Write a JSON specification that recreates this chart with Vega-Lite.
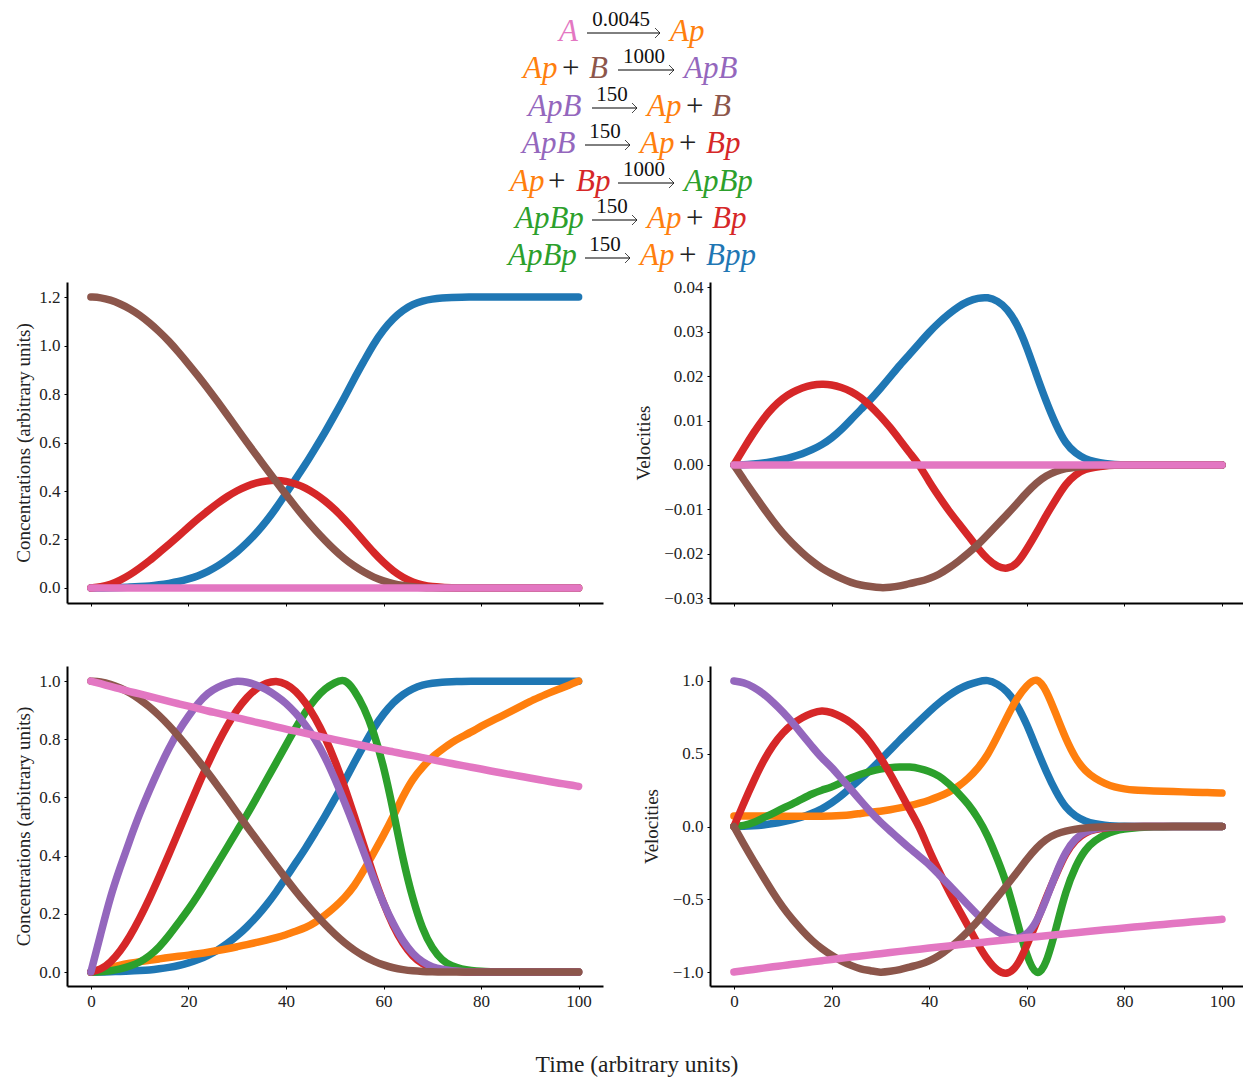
{"$schema":"https://vega.github.io/schema/vega-lite/v6.json","padding":{"left":14,"top":0,"right":0,"bottom":0},"background":"white","bounds":"flush","columns":2,"spacing":{"row":63,"column":107},
"config":{"view":{"stroke":null},"font":"Liberation Serif","axis":{"grid":false,"domainColor":"black","domainWidth":2,"tickColor":"black","tickWidth":1,"tickSize":3,"labelColor":"#222","labelFont":"Liberation Serif","labelFontSize":17,"labelPadding":4,"titleFont":"Liberation Serif","titleFontSize":19,"titleFontWeight":"normal","titleColor":"#222"}},
"datasets":{
"eqSpecies":[
{"x":559,"y":41,"text":"A","species":"A"},{"x":670,"y":41,"text":"Ap","species":"Ap"},
{"x":523,"y":78,"text":"Ap","species":"Ap"},{"x":589,"y":78,"text":"B","species":"B"},{"x":684,"y":78,"text":"ApB","species":"ApB"},
{"x":528,"y":116,"text":"ApB","species":"ApB"},{"x":647,"y":116,"text":"Ap","species":"Ap"},{"x":712,"y":116,"text":"B","species":"B"},
{"x":522,"y":153,"text":"ApB","species":"ApB"},{"x":640,"y":153,"text":"Ap","species":"Ap"},{"x":706,"y":153,"text":"Bp","species":"Bp"},
{"x":510,"y":191,"text":"Ap","species":"Ap"},{"x":576,"y":191,"text":"Bp","species":"Bp"},{"x":684,"y":191,"text":"ApBp","species":"ApBp"},
{"x":515,"y":228,"text":"ApBp","species":"ApBp"},{"x":647,"y":228,"text":"Ap","species":"Ap"},{"x":712,"y":228,"text":"Bp","species":"Bp"},
{"x":508,"y":265,"text":"ApBp","species":"ApBp"},{"x":640,"y":265,"text":"Ap","species":"Ap"},{"x":706,"y":265,"text":"Bpp","species":"Bpp"}],
"eqPlus":[{"x":562,"y":78,"text":"+"},{"x":686,"y":116,"text":"+"},{"x":679,"y":153,"text":"+"},{"x":548,"y":191,"text":"+"},{"x":686,"y":228,"text":"+"},{"x":679,"y":265,"text":"+"}],
"eqRates":[{"x":621,"y":26,"text":"0.0045"},{"x":644,"y":63,"text":"1000"},{"x":612,"y":101,"text":"150"},{"x":605,"y":138,"text":"150"},{"x":644,"y":176,"text":"1000"},{"x":612,"y":213,"text":"150"},{"x":605,"y":251,"text":"150"}],
"eqArrows":[{"x1":587,"x2":660,"y":33},{"x1":618,"x2":674,"y":70},{"x1":592,"x2":637,"y":108},{"x1":585,"x2":630,"y":145},{"x1":618,"x2":674,"y":183},{"x1":592,"x2":637,"y":220},{"x1":585,"x2":630,"y":258}],
"concAbs":[
{"t":0,"Bpp":0,"Bp":0,"B":1.2,"A":0},{"t":2,"Bpp":0,"Bp":0.004,"B":1.198,"A":0},{"t":4,"Bpp":0.001,"Bp":0.014,"B":1.188,"A":0},{"t":6,"Bpp":0.002,"Bp":0.032,"B":1.172,"A":0},{"t":8,"Bpp":0.004,"Bp":0.054,"B":1.152,"A":0},{"t":10,"Bpp":0.006,"Bp":0.082,"B":1.126,"A":0},{"t":12,"Bpp":0.008,"Bp":0.112,"B":1.094,"A":0},{"t":14,"Bpp":0.013,"Bp":0.146,"B":1.058,"A":0},{"t":16,"Bpp":0.019,"Bp":0.18,"B":1.018,"A":0},{"t":18,"Bpp":0.026,"Bp":0.215,"B":0.972,"A":0},{"t":20,"Bpp":0.037,"Bp":0.251,"B":0.924,"A":0},{"t":22,"Bpp":0.05,"Bp":0.286,"B":0.874,"A":0},{"t":24,"Bpp":0.068,"Bp":0.319,"B":0.822,"A":0},{"t":26,"Bpp":0.09,"Bp":0.35,"B":0.768,"A":0},{"t":28,"Bpp":0.118,"Bp":0.378,"B":0.713,"A":0},{"t":30,"Bpp":0.149,"Bp":0.402,"B":0.656,"A":0},{"t":32,"Bpp":0.186,"Bp":0.421,"B":0.6,"A":0},{"t":34,"Bpp":0.228,"Bp":0.434,"B":0.546,"A":0},{"t":36,"Bpp":0.276,"Bp":0.442,"B":0.492,"A":0},{"t":38,"Bpp":0.33,"Bp":0.445,"B":0.438,"A":0},{"t":40,"Bpp":0.39,"Bp":0.441,"B":0.385,"A":0},{"t":42,"Bpp":0.45,"Bp":0.43,"B":0.334,"A":0},{"t":44,"Bpp":0.51,"Bp":0.413,"B":0.284,"A":0},{"t":46,"Bpp":0.576,"Bp":0.389,"B":0.239,"A":0},{"t":48,"Bpp":0.642,"Bp":0.36,"B":0.196,"A":0},{"t":50,"Bpp":0.714,"Bp":0.324,"B":0.156,"A":0},{"t":52,"Bpp":0.786,"Bp":0.284,"B":0.12,"A":0},{"t":54,"Bpp":0.864,"Bp":0.239,"B":0.09,"A":0},{"t":56,"Bpp":0.936,"Bp":0.192,"B":0.065,"A":0},{"t":58,"Bpp":1.008,"Bp":0.146,"B":0.044,"A":0},{"t":60,"Bpp":1.066,"Bp":0.105,"B":0.029,"A":0},{"t":62,"Bpp":1.112,"Bp":0.07,"B":0.017,"A":0},{"t":64,"Bpp":1.146,"Bp":0.043,"B":0.01,"A":0},{"t":66,"Bpp":1.17,"Bp":0.024,"B":0.005,"A":0},{"t":68,"Bpp":1.184,"Bp":0.012,"B":0.002,"A":0},{"t":70,"Bpp":1.192,"Bp":0.005,"B":0.001,"A":0},{"t":72,"Bpp":1.196,"Bp":0.003,"B":0,"A":0},{"t":74,"Bpp":1.198,"Bp":0.001,"B":0,"A":0},{"t":76,"Bpp":1.199,"Bp":0,"B":0,"A":0},{"t":78,"Bpp":1.2,"Bp":0,"B":0,"A":0},{"t":80,"Bpp":1.2,"Bp":0,"B":0,"A":0},{"t":85,"Bpp":1.2,"Bp":0,"B":0,"A":0},{"t":90,"Bpp":1.2,"Bp":0,"B":0,"A":0},{"t":95,"Bpp":1.2,"Bp":0,"B":0,"A":0},{"t":100,"Bpp":1.2,"Bp":0,"B":0,"A":0}],
"velAbs":[
{"t":0,"Bpp":0,"Bp":0,"B":0,"A":0},{"t":2,"Bpp":0,"Bp":0.0037,"B":-0.0033,"A":0},{"t":4,"Bpp":0.0002,"Bp":0.0072,"B":-0.0065,"A":0},{"t":6,"Bpp":0.0004,"Bp":0.0104,"B":-0.0096,"A":0},{"t":8,"Bpp":0.0008,"Bp":0.013,"B":-0.0126,"A":0},{"t":10,"Bpp":0.0012,"Bp":0.015,"B":-0.0154,"A":0},{"t":12,"Bpp":0.0018,"Bp":0.0164,"B":-0.0177,"A":0},{"t":14,"Bpp":0.0025,"Bp":0.0174,"B":-0.0198,"A":0},{"t":16,"Bpp":0.0034,"Bp":0.018,"B":-0.0217,"A":0},{"t":18,"Bpp":0.0045,"Bp":0.0182,"B":-0.0233,"A":0},{"t":20,"Bpp":0.006,"Bp":0.0181,"B":-0.0245,"A":0},{"t":22,"Bpp":0.0079,"Bp":0.0175,"B":-0.0256,"A":0},{"t":24,"Bpp":0.0102,"Bp":0.0166,"B":-0.0265,"A":0},{"t":26,"Bpp":0.0125,"Bp":0.0152,"B":-0.0271,"A":0},{"t":28,"Bpp":0.0147,"Bp":0.0133,"B":-0.0274,"A":0},{"t":30,"Bpp":0.0172,"Bp":0.011,"B":-0.0277,"A":0},{"t":32,"Bpp":0.0198,"Bp":0.0085,"B":-0.0276,"A":0},{"t":34,"Bpp":0.0225,"Bp":0.0056,"B":-0.0273,"A":0},{"t":36,"Bpp":0.0249,"Bp":0.0027,"B":-0.0267,"A":0},{"t":38,"Bpp":0.0274,"Bp":0,"B":-0.0263,"A":0},{"t":40,"Bpp":0.0299,"Bp":-0.0038,"B":-0.0256,"A":0},{"t":42,"Bpp":0.0321,"Bp":-0.0071,"B":-0.0247,"A":0},{"t":44,"Bpp":0.034,"Bp":-0.0103,"B":-0.0233,"A":0},{"t":46,"Bpp":0.0357,"Bp":-0.0131,"B":-0.0217,"A":0},{"t":48,"Bpp":0.0369,"Bp":-0.0159,"B":-0.0199,"A":0},{"t":50,"Bpp":0.0376,"Bp":-0.0188,"B":-0.018,"A":0},{"t":52,"Bpp":0.0378,"Bp":-0.0213,"B":-0.0157,"A":0},{"t":54,"Bpp":0.037,"Bp":-0.023,"B":-0.0134,"A":0},{"t":56,"Bpp":0.0352,"Bp":-0.0235,"B":-0.0111,"A":0},{"t":58,"Bpp":0.0318,"Bp":-0.0224,"B":-0.0087,"A":0},{"t":60,"Bpp":0.0266,"Bp":-0.019,"B":-0.0062,"A":0},{"t":62,"Bpp":0.0202,"Bp":-0.0153,"B":-0.004,"A":0},{"t":64,"Bpp":0.0142,"Bp":-0.0113,"B":-0.0024,"A":0},{"t":66,"Bpp":0.0089,"Bp":-0.0077,"B":-0.0014,"A":0},{"t":68,"Bpp":0.0047,"Bp":-0.0042,"B":-0.0008,"A":0},{"t":70,"Bpp":0.0026,"Bp":-0.0021,"B":-0.0005,"A":0},{"t":72,"Bpp":0.0013,"Bp":-0.0009,"B":-0.0003,"A":0},{"t":74,"Bpp":0.0007,"Bp":-0.0005,"B":-0.0001,"A":0},{"t":76,"Bpp":0.0003,"Bp":-0.0002,"B":-0.0001,"A":0},{"t":78,"Bpp":0.0001,"Bp":-0.0001,"B":0,"A":0},{"t":80,"Bpp":0,"Bp":0,"B":0,"A":0},{"t":85,"Bpp":0,"Bp":0,"B":0,"A":0},{"t":90,"Bpp":0,"Bp":0,"B":0,"A":0},{"t":95,"Bpp":0,"Bp":0,"B":0,"A":0},{"t":100,"Bpp":0,"Bp":0,"B":0,"A":0}],
"concNorm":[
{"t":0,"Bpp":0,"Ap":0,"ApBp":0,"Bp":0,"ApB":0,"B":1,"A":1},{"t":2,"Bpp":0,"Ap":0.008,"ApBp":0.001,"Bp":0.008,"ApB":0.13,"B":0.998,"A":0.991},{"t":4,"Bpp":0.001,"Ap":0.016,"ApBp":0.004,"Bp":0.032,"ApB":0.26,"B":0.99,"A":0.982},{"t":6,"Bpp":0.002,"Ap":0.024,"ApBp":0.01,"Bp":0.071,"ApB":0.36,"B":0.977,"A":0.973},{"t":8,"Bpp":0.003,"Ap":0.03,"ApBp":0.02,"Bp":0.122,"ApB":0.455,"B":0.96,"A":0.964},{"t":10,"Bpp":0.005,"Ap":0.036,"ApBp":0.033,"Bp":0.184,"ApB":0.545,"B":0.938,"A":0.956},{"t":12,"Bpp":0.007,"Ap":0.04,"ApBp":0.055,"Bp":0.252,"ApB":0.625,"B":0.912,"A":0.947},{"t":14,"Bpp":0.011,"Ap":0.045,"ApBp":0.085,"Bp":0.327,"ApB":0.7,"B":0.882,"A":0.939},{"t":16,"Bpp":0.016,"Ap":0.05,"ApBp":0.125,"Bp":0.404,"ApB":0.77,"B":0.848,"A":0.93},{"t":18,"Bpp":0.022,"Ap":0.054,"ApBp":0.17,"Bp":0.484,"ApB":0.83,"B":0.81,"A":0.922},{"t":20,"Bpp":0.031,"Ap":0.058,"ApBp":0.215,"Bp":0.563,"ApB":0.88,"B":0.77,"A":0.914},{"t":22,"Bpp":0.042,"Ap":0.063,"ApBp":0.265,"Bp":0.642,"ApB":0.925,"B":0.728,"A":0.906},{"t":24,"Bpp":0.057,"Ap":0.068,"ApBp":0.32,"Bp":0.717,"ApB":0.96,"B":0.685,"A":0.897},{"t":26,"Bpp":0.075,"Ap":0.074,"ApBp":0.375,"Bp":0.786,"ApB":0.98,"B":0.64,"A":0.89},{"t":28,"Bpp":0.098,"Ap":0.08,"ApBp":0.43,"Bp":0.849,"ApB":0.993,"B":0.594,"A":0.882},{"t":30,"Bpp":0.124,"Ap":0.087,"ApBp":0.487,"Bp":0.903,"ApB":1.002,"B":0.547,"A":0.874},{"t":32,"Bpp":0.155,"Ap":0.094,"ApBp":0.54,"Bp":0.945,"ApB":0.997,"B":0.5,"A":0.866},{"t":34,"Bpp":0.19,"Ap":0.102,"ApBp":0.6,"Bp":0.976,"ApB":0.987,"B":0.455,"A":0.858},{"t":36,"Bpp":0.23,"Ap":0.11,"ApBp":0.66,"Bp":0.994,"ApB":0.972,"B":0.41,"A":0.851},{"t":38,"Bpp":0.275,"Ap":0.118,"ApBp":0.72,"Bp":1.002,"ApB":0.95,"B":0.365,"A":0.843},{"t":40,"Bpp":0.325,"Ap":0.128,"ApBp":0.78,"Bp":0.991,"ApB":0.925,"B":0.321,"A":0.835},{"t":42,"Bpp":0.375,"Ap":0.14,"ApBp":0.84,"Bp":0.967,"ApB":0.89,"B":0.278,"A":0.828},{"t":44,"Bpp":0.425,"Ap":0.152,"ApBp":0.895,"Bp":0.927,"ApB":0.85,"B":0.237,"A":0.821},{"t":46,"Bpp":0.48,"Ap":0.17,"ApBp":0.94,"Bp":0.874,"ApB":0.8,"B":0.199,"A":0.813},{"t":48,"Bpp":0.535,"Ap":0.195,"ApBp":0.975,"Bp":0.808,"ApB":0.74,"B":0.163,"A":0.806},{"t":50,"Bpp":0.595,"Ap":0.223,"ApBp":0.995,"Bp":0.729,"ApB":0.665,"B":0.13,"A":0.799},{"t":52,"Bpp":0.655,"Ap":0.255,"ApBp":1.01,"Bp":0.638,"ApB":0.585,"B":0.1,"A":0.792},{"t":54,"Bpp":0.72,"Ap":0.295,"ApBp":0.97,"Bp":0.537,"ApB":0.5,"B":0.075,"A":0.785},{"t":56,"Bpp":0.78,"Ap":0.35,"ApBp":0.91,"Bp":0.432,"ApB":0.41,"B":0.054,"A":0.778},{"t":58,"Bpp":0.84,"Ap":0.41,"ApBp":0.825,"Bp":0.329,"ApB":0.32,"B":0.037,"A":0.771},{"t":60,"Bpp":0.888,"Ap":0.47,"ApBp":0.71,"Bp":0.235,"ApB":0.235,"B":0.024,"A":0.763},{"t":62,"Bpp":0.927,"Ap":0.535,"ApBp":0.555,"Bp":0.157,"ApB":0.165,"B":0.014,"A":0.757},{"t":64,"Bpp":0.955,"Ap":0.605,"ApBp":0.385,"Bp":0.096,"ApB":0.105,"B":0.008,"A":0.75},{"t":66,"Bpp":0.975,"Ap":0.665,"ApBp":0.25,"Bp":0.053,"ApB":0.062,"B":0.004,"A":0.744},{"t":68,"Bpp":0.987,"Ap":0.705,"ApBp":0.145,"Bp":0.027,"ApB":0.034,"B":0.002,"A":0.737},{"t":70,"Bpp":0.993,"Ap":0.74,"ApBp":0.08,"Bp":0.012,"ApB":0.017,"B":0.001,"A":0.73},{"t":72,"Bpp":0.997,"Ap":0.765,"ApBp":0.04,"Bp":0.006,"ApB":0.009,"B":0,"A":0.723},{"t":74,"Bpp":0.998,"Ap":0.79,"ApBp":0.02,"Bp":0.003,"ApB":0.004,"B":0,"A":0.717},{"t":76,"Bpp":0.999,"Ap":0.808,"ApBp":0.01,"Bp":0.001,"ApB":0.002,"B":0,"A":0.71},{"t":78,"Bpp":1,"Ap":0.825,"ApBp":0.005,"Bp":0,"ApB":0.001,"B":0,"A":0.704},{"t":80,"Bpp":1,"Ap":0.845,"ApBp":0.002,"Bp":0,"ApB":0,"B":0,"A":0.698},{"t":82,"Bpp":1,"Ap":0.862,"ApBp":0.001,"Bp":0,"ApB":0,"B":0,"A":0.691},{"t":84,"Bpp":1,"Ap":0.878,"ApBp":0,"Bp":0,"ApB":0,"B":0,"A":0.685},{"t":86,"Bpp":1,"Ap":0.895,"ApBp":0,"Bp":0,"ApB":0,"B":0,"A":0.679},{"t":88,"Bpp":1,"Ap":0.912,"ApBp":0,"Bp":0,"ApB":0,"B":0,"A":0.673},{"t":90,"Bpp":1,"Ap":0.93,"ApBp":0,"Bp":0,"ApB":0,"B":0,"A":0.667},{"t":92,"Bpp":1,"Ap":0.945,"ApBp":0,"Bp":0,"ApB":0,"B":0,"A":0.661},{"t":94,"Bpp":1,"Ap":0.96,"ApBp":0,"Bp":0,"ApB":0,"B":0,"A":0.655},{"t":96,"Bpp":1,"Ap":0.973,"ApBp":0,"Bp":0,"ApB":0,"B":0,"A":0.649},{"t":98,"Bpp":1,"Ap":0.986,"ApBp":0,"Bp":0,"ApB":0,"B":0,"A":0.644},{"t":100,"Bpp":1,"Ap":1,"ApBp":0,"Bp":0,"ApB":0,"B":0,"A":0.638}],
"velNorm":[
{"t":0,"Bpp":0,"Ap":0.073,"ApBp":0,"Bp":0,"ApB":1,"B":0,"A":-1},{"t":2,"Bpp":0.001,"Ap":0.073,"ApBp":0.006,"Bp":0.16,"ApB":0.99,"B":-0.12,"A":-0.991},{"t":4,"Bpp":0.004,"Ap":0.073,"ApBp":0.025,"Bp":0.31,"ApB":0.96,"B":-0.235,"A":-0.982},{"t":6,"Bpp":0.01,"Ap":0.072,"ApBp":0.06,"Bp":0.45,"ApB":0.915,"B":-0.345,"A":-0.973},{"t":8,"Bpp":0.02,"Ap":0.072,"ApBp":0.09,"Bp":0.56,"ApB":0.855,"B":-0.455,"A":-0.964},{"t":10,"Bpp":0.032,"Ap":0.071,"ApBp":0.125,"Bp":0.645,"ApB":0.79,"B":-0.555,"A":-0.956},{"t":12,"Bpp":0.048,"Ap":0.07,"ApBp":0.155,"Bp":0.705,"ApB":0.715,"B":-0.64,"A":-0.947},{"t":14,"Bpp":0.065,"Ap":0.07,"ApBp":0.19,"Bp":0.75,"ApB":0.63,"B":-0.715,"A":-0.939},{"t":16,"Bpp":0.09,"Ap":0.07,"ApBp":0.225,"Bp":0.78,"ApB":0.55,"B":-0.785,"A":-0.93},{"t":18,"Bpp":0.12,"Ap":0.071,"ApBp":0.25,"Bp":0.8,"ApB":0.47,"B":-0.84,"A":-0.922},{"t":20,"Bpp":0.16,"Ap":0.072,"ApBp":0.27,"Bp":0.785,"ApB":0.41,"B":-0.885,"A":-0.914},{"t":22,"Bpp":0.21,"Ap":0.075,"ApBp":0.3,"Bp":0.755,"ApB":0.33,"B":-0.925,"A":-0.906},{"t":24,"Bpp":0.27,"Ap":0.08,"ApBp":0.335,"Bp":0.715,"ApB":0.255,"B":-0.955,"A":-0.897},{"t":26,"Bpp":0.33,"Ap":0.09,"ApBp":0.36,"Bp":0.655,"ApB":0.175,"B":-0.98,"A":-0.89},{"t":28,"Bpp":0.39,"Ap":0.098,"ApBp":0.38,"Bp":0.575,"ApB":0.1,"B":-0.99,"A":-0.882},{"t":30,"Bpp":0.455,"Ap":0.105,"ApBp":0.395,"Bp":0.475,"ApB":0.03,"B":-1.005,"A":-0.874},{"t":32,"Bpp":0.525,"Ap":0.115,"ApBp":0.405,"Bp":0.365,"ApB":-0.03,"B":-0.995,"A":-0.866},{"t":34,"Bpp":0.595,"Ap":0.128,"ApBp":0.41,"Bp":0.24,"ApB":-0.09,"B":-0.985,"A":-0.858},{"t":36,"Bpp":0.66,"Ap":0.142,"ApBp":0.41,"Bp":0.115,"ApB":-0.15,"B":-0.965,"A":-0.851},{"t":38,"Bpp":0.725,"Ap":0.16,"ApBp":0.4,"Bp":0,"ApB":-0.205,"B":-0.95,"A":-0.843},{"t":40,"Bpp":0.79,"Ap":0.18,"ApBp":0.38,"Bp":-0.165,"ApB":-0.26,"B":-0.925,"A":-0.835},{"t":42,"Bpp":0.85,"Ap":0.205,"ApBp":0.35,"Bp":-0.305,"ApB":-0.33,"B":-0.89,"A":-0.828},{"t":44,"Bpp":0.9,"Ap":0.235,"ApBp":0.295,"Bp":-0.445,"ApB":-0.4,"B":-0.84,"A":-0.821},{"t":46,"Bpp":0.945,"Ap":0.275,"ApBp":0.23,"Bp":-0.565,"ApB":-0.47,"B":-0.785,"A":-0.813},{"t":48,"Bpp":0.975,"Ap":0.33,"ApBp":0.155,"Bp":-0.685,"ApB":-0.54,"B":-0.72,"A":-0.806},{"t":50,"Bpp":0.995,"Ap":0.4,"ApBp":0.06,"Bp":-0.81,"ApB":-0.61,"B":-0.65,"A":-0.799},{"t":52,"Bpp":1.01,"Ap":0.49,"ApBp":-0.06,"Bp":-0.92,"ApB":-0.675,"B":-0.565,"A":-0.792},{"t":54,"Bpp":0.98,"Ap":0.62,"ApBp":-0.225,"Bp":-0.995,"ApB":-0.725,"B":-0.485,"A":-0.785},{"t":56,"Bpp":0.93,"Ap":0.755,"ApBp":-0.4,"Bp":-1.02,"ApB":-0.76,"B":-0.4,"A":-0.778},{"t":58,"Bpp":0.84,"Ap":0.885,"ApBp":-0.65,"Bp":-0.965,"ApB":-0.775,"B":-0.315,"A":-0.771},{"t":60,"Bpp":0.705,"Ap":0.97,"ApBp":-0.895,"Bp":-0.82,"ApB":-0.745,"B":-0.225,"A":-0.763},{"t":62,"Bpp":0.535,"Ap":1.03,"ApBp":-1.04,"Bp":-0.66,"ApB":-0.66,"B":-0.145,"A":-0.757},{"t":64,"Bpp":0.375,"Ap":0.94,"ApBp":-0.95,"Bp":-0.485,"ApB":-0.5,"B":-0.085,"A":-0.75},{"t":66,"Bpp":0.235,"Ap":0.77,"ApBp":-0.7,"Bp":-0.33,"ApB":-0.32,"B":-0.05,"A":-0.744},{"t":68,"Bpp":0.125,"Ap":0.6,"ApBp":-0.44,"Bp":-0.18,"ApB":-0.17,"B":-0.03,"A":-0.737},{"t":70,"Bpp":0.07,"Ap":0.465,"ApBp":-0.27,"Bp":-0.09,"ApB":-0.08,"B":-0.018,"A":-0.73},{"t":72,"Bpp":0.035,"Ap":0.38,"ApBp":-0.155,"Bp":-0.04,"ApB":-0.035,"B":-0.01,"A":-0.723},{"t":74,"Bpp":0.018,"Ap":0.33,"ApBp":-0.095,"Bp":-0.02,"ApB":-0.015,"B":-0.005,"A":-0.717},{"t":76,"Bpp":0.008,"Ap":0.295,"ApBp":-0.055,"Bp":-0.01,"ApB":-0.007,"B":-0.002,"A":-0.71},{"t":78,"Bpp":0.003,"Ap":0.27,"ApBp":-0.03,"Bp":-0.005,"ApB":-0.003,"B":-0.001,"A":-0.704},{"t":80,"Bpp":0.001,"Ap":0.258,"ApBp":-0.017,"Bp":-0.002,"ApB":-0.001,"B":0,"A":-0.698},{"t":82,"Bpp":0,"Ap":0.25,"ApBp":-0.01,"Bp":-0.001,"ApB":0,"B":0,"A":-0.691},{"t":84,"Bpp":0,"Ap":0.247,"ApBp":-0.005,"Bp":0,"ApB":0,"B":0,"A":-0.685},{"t":86,"Bpp":0,"Ap":0.244,"ApBp":-0.002,"Bp":0,"ApB":0,"B":0,"A":-0.679},{"t":88,"Bpp":0,"Ap":0.242,"ApBp":-0.001,"Bp":0,"ApB":0,"B":0,"A":-0.673},{"t":90,"Bpp":0,"Ap":0.24,"ApBp":0,"Bp":0,"ApB":0,"B":0,"A":-0.667},{"t":92,"Bpp":0,"Ap":0.238,"ApBp":0,"Bp":0,"ApB":0,"B":0,"A":-0.661},{"t":94,"Bpp":0,"Ap":0.236,"ApBp":0,"Bp":0,"ApB":0,"B":0,"A":-0.655},{"t":96,"Bpp":0,"Ap":0.234,"ApBp":0,"Bp":0,"ApB":0,"B":0,"A":-0.649},{"t":98,"Bpp":0,"Ap":0.232,"ApBp":0,"Bp":0,"ApB":0,"B":0,"A":-0.644},{"t":100,"Bpp":0,"Ap":0.23,"ApBp":0,"Bp":0,"ApB":0,"B":0,"A":-0.638}]
},
"concat":[
{"width":536,"height":219,"layer":[
{"data":{"name":"eqArrows"},"mark":{"type":"rule","color":"black","strokeWidth":1},"encoding":{"x":{"field":"x1","type":"quantitative","scale":{"domain":[67,603],"nice":false,"zero":false},"axis":null},"x2":{"field":"x2"},"y":{"field":"y","type":"quantitative","scale":{"domain":[0,219],"reverse":true,"nice":false,"zero":false},"axis":null}}},
{"data":{"name":"eqArrows"},"mark":{"type":"point","shape":"M-1,-1L0,0L-1,1","filled":false,"stroke":"black","strokeWidth":1,"size":100},"encoding":{"x":{"field":"x2","type":"quantitative"},"y":{"field":"y","type":"quantitative"}}},
{"data":{"name":"eqSpecies"},"mark":{"type":"text","font":"Liberation Serif","fontStyle":"italic","fontSize":31,"align":"left","baseline":"alphabetic"},"encoding":{"x":{"field":"x","type":"quantitative"},"y":{"field":"y","type":"quantitative"},"text":{"field":"text"},"color":{"field":"species","type":"nominal","legend":null,"scale":{"domain":["Bpp","Ap","ApBp","Bp","ApB","B","A"],"range":["#1f77b4","#ff7f0e","#2ca02c","#d62728","#9467bd","#8c564b","#e377c2"]}}}},
{"data":{"name":"eqPlus"},"mark":{"type":"text","font":"Liberation Serif","fontSize":31,"align":"left","baseline":"alphabetic","color":"#222"},"encoding":{"x":{"field":"x","type":"quantitative"},"y":{"field":"y","type":"quantitative"},"text":{"field":"text"}}},
{"data":{"name":"eqRates"},"mark":{"type":"text","font":"Liberation Serif","fontSize":21,"align":"center","baseline":"alphabetic","color":"#111"},"encoding":{"x":{"field":"x","type":"quantitative"},"y":{"field":"y","type":"quantitative"},"text":{"field":"text"}}}
]},
{"width":533,"height":219,"data":{"values":[]},"mark":"text"},
{"width":536,"height":321,"data":{"name":"concAbs"},"transform":[{"fold":["Bpp","Bp","B","A"],"as":["species","value"]}],"mark":{"type":"line","strokeWidth":7.5,"strokeCap":"round","strokeJoin":"round","interpolate":"basis"},"encoding":{"x":{"field":"t","type":"quantitative","scale":{"domain":[-4.9,105],"nice":false,"zero":false},"axis":{"values":[0,20,40,60,80,100],"labels":false,"title":null}},"y":{"field":"value","type":"quantitative","scale":{"domain":[-0.0619,1.262],"nice":false,"zero":false},"axis":{"values":[0,0.2,0.4,0.6,0.8,1,1.2],"format":".1f","title":"Concentrations (arbitrary units)","titleX":-34}},"color":{"field":"species","type":"nominal","legend":null,"scale":{"domain":["Bpp","Ap","ApBp","Bp","ApB","B","A"],"range":["#1f77b4","#ff7f0e","#2ca02c","#d62728","#9467bd","#8c564b","#e377c2"]}}}},
{"width":533,"height":321,"data":{"name":"velAbs"},"transform":[{"fold":["Bpp","Bp","B","A"],"as":["species","value"]}],"mark":{"type":"line","strokeWidth":7.5,"strokeCap":"round","strokeJoin":"round","interpolate":"basis"},"encoding":{"x":{"field":"t","type":"quantitative","scale":{"domain":[-4.9,104.3],"nice":false,"zero":false},"axis":{"values":[0,20,40,60,80,100],"labels":false,"title":null}},"y":{"field":"value","type":"quantitative","scale":{"domain":[-0.0311,0.0412],"nice":false,"zero":false},"axis":{"values":[-0.03,-0.02,-0.01,0,0.01,0.02,0.03,0.04],"format":".2f","title":"Velocities","titleX":-57}},"color":{"field":"species","type":"nominal","legend":null,"scale":{"domain":["Bpp","Ap","ApBp","Bp","ApB","B","A"],"range":["#1f77b4","#ff7f0e","#2ca02c","#d62728","#9467bd","#8c564b","#e377c2"]}}}},
{"width":536,"height":320,"data":{"name":"concNorm"},"transform":[{"fold":["Bpp","Ap","ApBp","Bp","ApB","B","A"],"as":["species","value"]}],"mark":{"type":"line","strokeWidth":7.5,"strokeCap":"round","strokeJoin":"round","interpolate":"basis"},"encoding":{"x":{"field":"t","type":"quantitative","scale":{"domain":[-4.9,105],"nice":false,"zero":false},"axis":{"values":[0,20,40,60,80,100],"format":"d","title":null}},"y":{"field":"value","type":"quantitative","scale":{"domain":[-0.048,1.052],"nice":false,"zero":false},"axis":{"values":[0,0.2,0.4,0.6,0.8,1],"format":".1f","title":"Concentrations (arbitrary units)","titleX":-34}},"color":{"field":"species","type":"nominal","legend":null,"scale":{"domain":["Bpp","Ap","ApBp","Bp","ApB","B","A"],"range":["#1f77b4","#ff7f0e","#2ca02c","#d62728","#9467bd","#8c564b","#e377c2"]}}}},
{"width":533,"height":320,"data":{"name":"velNorm"},"transform":[{"fold":["Bpp","Ap","ApBp","Bp","ApB","B","A"],"as":["species","value"]}],"mark":{"type":"line","strokeWidth":7.5,"strokeCap":"round","strokeJoin":"round","interpolate":"basis"},"encoding":{"x":{"field":"t","type":"quantitative","scale":{"domain":[-4.9,104.3],"nice":false,"zero":false},"axis":{"values":[0,20,40,60,80,100],"format":"d","title":null}},"y":{"field":"value","type":"quantitative","scale":{"domain":[-1.096,1.103],"nice":false,"zero":false},"axis":{"values":[-1,-0.5,0,0.5,1],"format":".1f","title":"Velocities","titleX":-49}},"color":{"field":"species","type":"nominal","legend":null,"scale":{"domain":["Bpp","Ap","ApBp","Bp","ApB","B","A"],"range":["#1f77b4","#ff7f0e","#2ca02c","#d62728","#9467bd","#8c564b","#e377c2"]}}}},
{"width":536,"height":29,"data":{"values":[{"x":637,"y":1072,"text":"Time (arbitrary units)"}]},"mark":{"type":"text","font":"Liberation Serif","fontSize":23.5,"align":"center","baseline":"alphabetic","color":"#222"},"encoding":{"x":{"field":"x","type":"quantitative","scale":{"domain":[67,603],"nice":false,"zero":false},"axis":null},"y":{"field":"y","type":"quantitative","scale":{"domain":[1049,1078],"reverse":true,"nice":false,"zero":false},"axis":null},"text":{"field":"text"}}}
]}
